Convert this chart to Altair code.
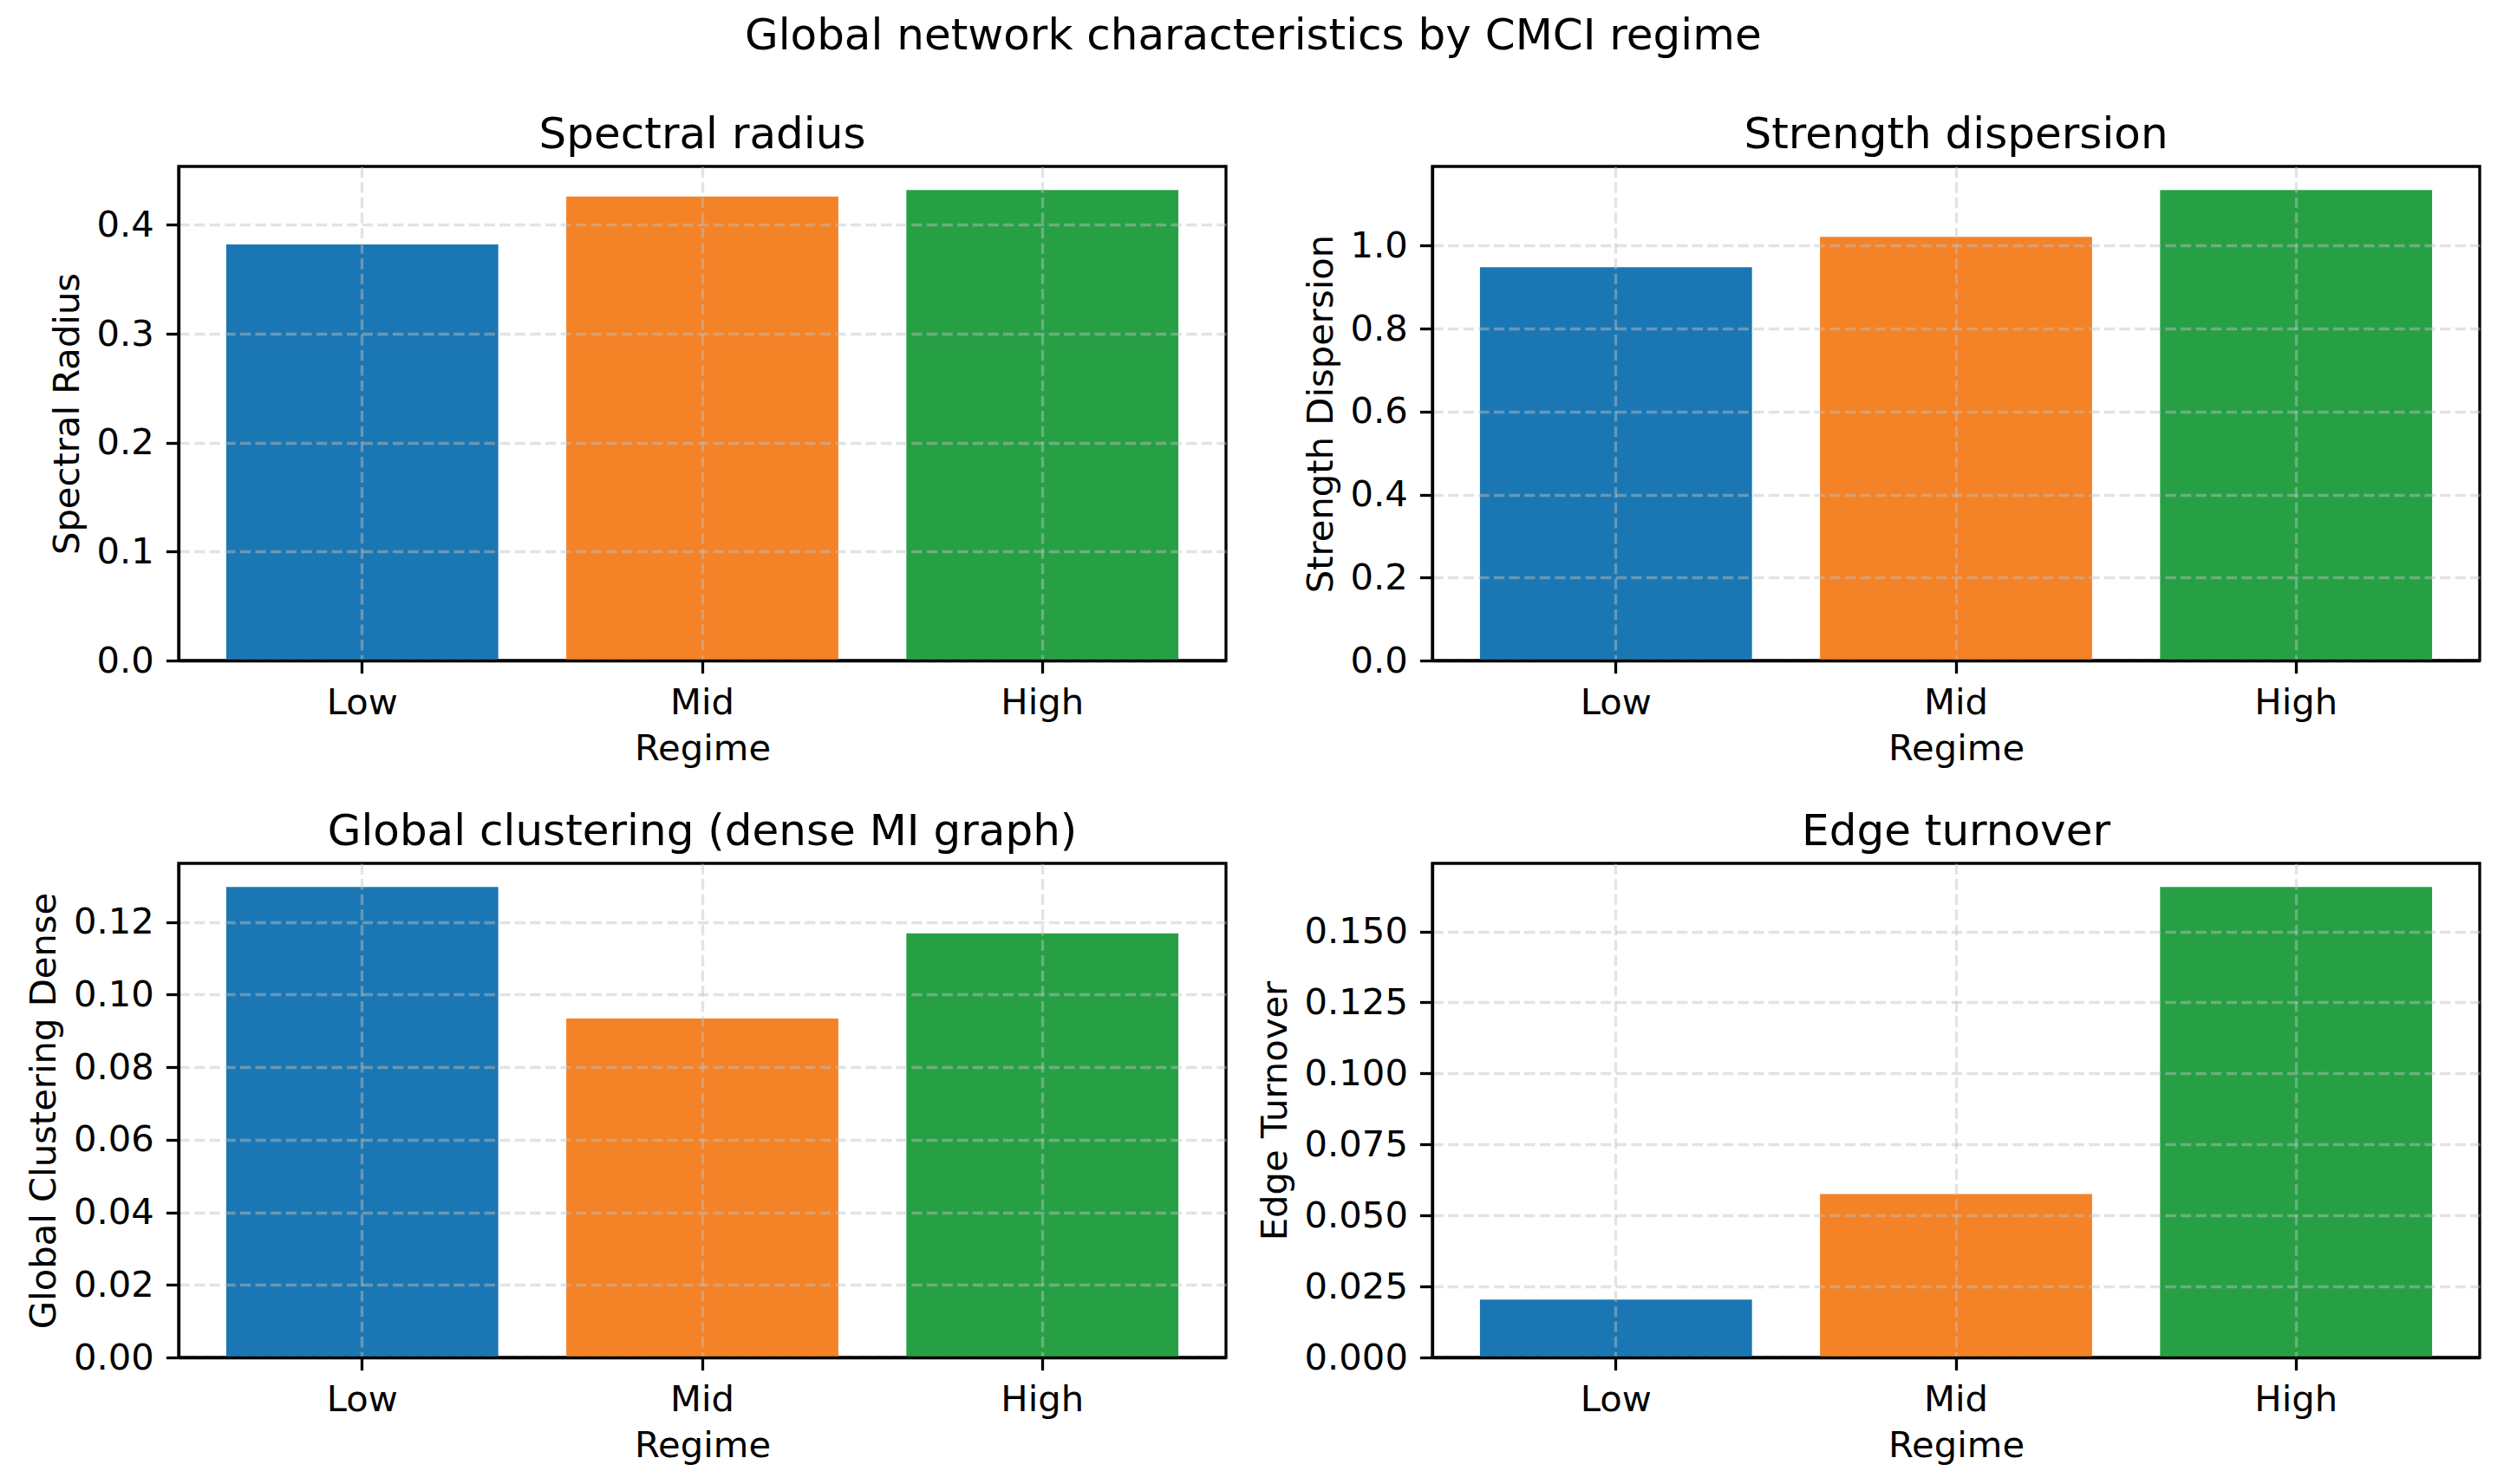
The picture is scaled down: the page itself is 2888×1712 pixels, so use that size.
import pandas as pd
import altair as alt

# values
regimes = ["Low", "Mid", "High"]
bar_colors = ["#1b77b3", "#f48226", "#27a045"]

spectral_radius = [0.382, 0.426, 0.432]
strength_dispersion = [0.948, 1.021, 1.134]
global_clustering = [0.1297, 0.0934, 0.1169]
edge_turnover = [0.0204, 0.0575, 0.1657]

spectral_ticks = [0.0, 0.1, 0.2, 0.3, 0.4]
strength_ticks = [0.0, 0.2, 0.4, 0.6, 0.8, 1.0]
clustering_ticks = [0.00, 0.02, 0.04, 0.06, 0.08, 0.10, 0.12]
turnover_ticks = [0.000, 0.025, 0.050, 0.075, 0.100, 0.125, 0.150]


def panel(values, title, ylabel, ticks, fmt):
    df = pd.DataFrame({"Regime": regimes, "value": values})
    return alt.Chart(df).mark_bar().encode(
        alt.X("Regime:N", sort=regimes, title="Regime",
              scale=alt.Scale(paddingInner=0.2, paddingOuter=0.14),
              axis=alt.Axis(labelAngle=0, bandPosition=0.5, titlePadding=11,
                            zindex=1)),
        alt.Y("value:Q", title=ylabel,
              scale=alt.Scale(domain=[0, max(values) * 1.05], nice=False),
              axis=alt.Axis(values=ticks, format=fmt, titlePadding=12,
                            zindex=1)),
        alt.Color("Regime:N", scale=alt.Scale(domain=regimes, range=bar_colors),
                  legend=None),
    ).properties(
        width=1208, height=570,
        title=alt.TitleParams(title, fontSize=50, fontWeight="normal",
                              font="DejaVu Sans", color="black", offset=11),
    )


chart = alt.concat(
    panel(spectral_radius, "Spectral radius", "Spectral Radius", spectral_ticks, ".1f"),
    panel(strength_dispersion, "Strength dispersion", "Strength Dispersion", strength_ticks, ".1f"),
    panel(global_clustering, "Global clustering (dense MI graph)", "Global Clustering Dense", clustering_ticks, ".2f"),
    panel(edge_turnover, "Edge turnover", "Edge Turnover", turnover_ticks, ".3f"),
    columns=2,
    spacing={"column": 238, "row": 234},
    bounds="flush",
).properties(
    title=alt.TitleParams("Global network characteristics by CMCI regime",
                          fontSize=50, fontWeight="normal", font="DejaVu Sans",
                          color="black", anchor="middle", offset=62),
    padding={"left": 20, "top": 9, "right": 10, "bottom": 10},
).configure_axis(
    labelFont="DejaVu Sans", labelFontSize=41.7, labelColor="black",
    titleFont="DejaVu Sans", titleFontSize=41.7, titleFontWeight="normal",
    titleColor="black",
    tickSize=14.6, tickWidth=3.3, tickColor="black", labelPadding=14,
    domain=True, domainColor="black", domainWidth=3.3,
    grid=True, gridColor="#c0c0c0", gridOpacity=0.45,
    gridDash=[12.3, 5.3], gridWidth=3.3,
).configure_view(
    stroke="black", strokeWidth=3.3,
)

chart.save("out.html", embed_options={"renderer": "svg", "actions": False})
